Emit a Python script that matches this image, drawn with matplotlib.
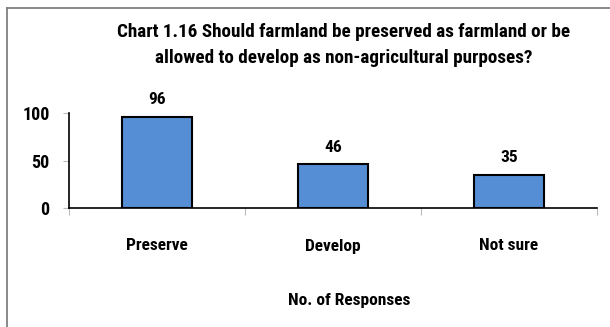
import matplotlib.pyplot as plt
from matplotlib.lines import Line2D

categories = ["Preserve", "Develop", "Not sure"]
responses = [96, 46, 35]
y_ticks = [0, 50, 100]

title = ("Chart 1.16 Should farmland be preserved as farmland or be\n"
         "allowed to develop as non-agricultural purposes?")

plt.rcParams["font.family"] = ["Roboto Condensed", "DejaVu Sans"]
plt.rcParams["font.weight"] = "bold"

W, H = 610, 327
fig = plt.figure(figsize=(W / 100, H / 100), dpi=100)

# plot area in pixel coordinates
left, right, top, bottom = 69, 597, 113, 208
ax = fig.add_axes([left / W, 1 - bottom / H, (right - left) / W, (bottom - top) / H])

x = range(len(categories))
ax.bar(x, responses, width=0.4, color="#558ED5", edgecolor="black", linewidth=1.5)
for i, v in zip(x, responses):
    ax.text(i, v + 10, str(v), ha="center", va="bottom", fontsize=12.5, fontweight="bold")

ax.set_xlim(-0.5, len(categories) - 0.5)
ax.set_ylim(0, 100)
ax.set_yticks(y_ticks)
ax.set_yticklabels([str(t) for t in y_ticks], fontsize=13, fontweight="bold")
ax.set_xticks([-0.5, 0.5, 1.5, 2.5])
ax.set_xticklabels([])
ax.tick_params(axis="x", length=5, color="#bbbbbb", direction="out")
ax.tick_params(axis="y", length=4, color="#bbbbbb", direction="out", pad=10)
for i, c in enumerate(categories):
    ax.text(i, -40, c, ha="center", va="center", fontsize=12.5, fontweight="bold")
ax.text(1.09, -97, "No. of Responses", ha="center", va="center", fontsize=12.5, fontweight="bold")

for s in ["top", "right"]:
    ax.spines[s].set_visible(False)
ax.spines["left"].set_linewidth(1.2)
ax.spines["bottom"].set_linewidth(1.2)

fig.text(344 / W, 1 - 45 / H, title, ha="center", va="center", fontsize=13.8,
         fontweight="bold", linespacing=1.55)

# outer frame: left and top edges only
fig.add_artist(Line2D([6.5 / W, 6.5 / W], [0, 1 - 8 / H], color="#808080", lw=1.3,
                      transform=fig.transFigure))
fig.add_artist(Line2D([6.5 / W, 1], [1 - 8 / H, 1 - 8 / H], color="#808080", lw=1.3,
                      transform=fig.transFigure))

fig.savefig("out.png", dpi=100)
